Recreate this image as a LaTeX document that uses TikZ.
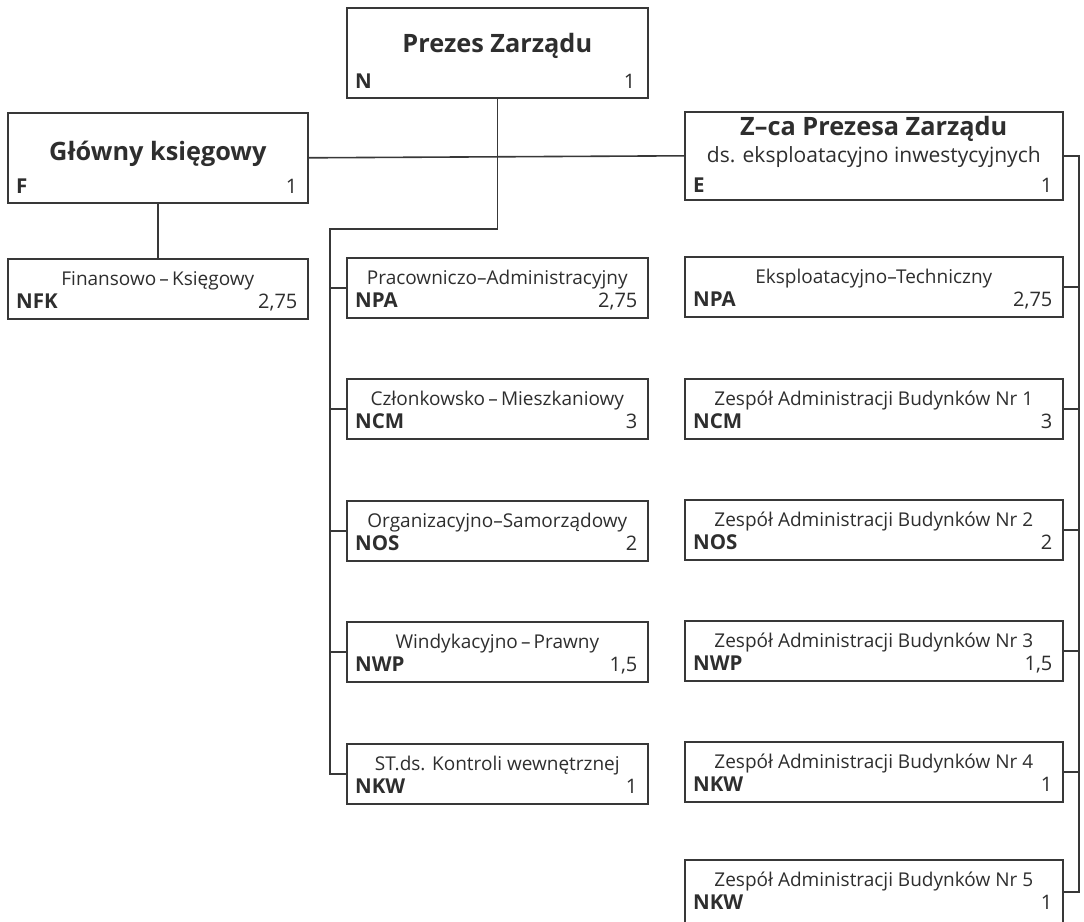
\documentclass[tikz,border=0pt]{standalone}
\usepackage{fontspec}
\setmainfont{Open Sans}
\usetikzlibrary{calc}
\definecolor{ink}{HTML}{383838}
\definecolor{txt}{HTML}{2E2E2E}
\tikzset{
  box/.style={draw=ink, line width=1.6pt, inner sep=0pt, anchor=north west},
  ttl/.style={anchor=base, inner sep=0pt, text=txt, font=\fontsize{19}{23}\selectfont},
  bigttl/.style={anchor=base, inner sep=0pt, text=txt, font=\fontsize{25.3}{30}\selectfont\bfseries},
  code/.style={anchor=base west, inner sep=0pt, text=txt, font=\fontsize{20.5}{24}\selectfont\bfseries},
  num/.style={anchor=base east, inner sep=0pt, text=txt, font=\fontsize{20}{24}\selectfont},
  wire/.style={draw=ink, line width=1.6pt},
}
% name, x, y, width, title, code, number
\newcommand\unitbox[7]{%
  \node[box, minimum width=#4pt, minimum height=60pt] (#1) at (#2,#3) {};
  \node[ttl] (#1t) at ($(#1.north)+(0,27)$) {#5};
  \node[code] (#1c) at ($(#1.north west)+(9,50)$) {#6};
  \node[num] (#1n) at ($(#1.north east)+(-11,50)$) {#7};
}
\begin{document}
\begin{tikzpicture}[x=1pt,y=-1pt]
\clip (0,0) rectangle (1084,921);
\fill[white] (0,0) rectangle (1084,921);

% Prezes
\node[box, minimum width=301pt, minimum height=90pt] (P) at (346,7) {};
\node[bigttl] (Pt) at ($(P.north)+(0,45)$) {Prezes Zarządu};
\node[code] (Pc) at ($(P.north west)+(9,81)$) {N};
\node[num] (Pn) at ($(P.north east)+(-13,81)$) {1};

% Glowny ksiegowy
\node[box, minimum width=300pt, minimum height=90pt] (G) at (7,112) {};
\node[bigttl] (Gt) at ($(G.north)+(0,48)$) {Główny księgowy};
\node[code] (Gc) at ($(G.north west)+(9,81)$) {F};
\node[num] (Gn) at ($(G.north east)+(-11,81)$) {1};

% Z-ca Prezesa
\node[box, minimum width=378pt, minimum height=88pt] (Z) at (684,111) {};
\node[bigttl] (Zt) at ($(Z.north)+(0,24)$) {Z–ca Prezesa Zarządu};
\node[ttl, font=\fontsize{21}{25}\selectfont] (Zs) at ($(Z.north)+(0,51)$) {ds. eksploatacyjno inwestycyjnych};
\node[code] (Zc) at ($(Z.north west)+(9,81)$) {E};
\node[num] (Zn) at ($(Z.north east)+(-11,81)$) {1};

% Finansowo
\unitbox{F}{7}{258}{300}{Finansowo\,–\,Księgowy}{NFK}{2,75}

% left column
\unitbox{L1}{346}{257}{301}{Pracowniczo–Administracyjny}{NPA}{2,75}
\unitbox{L2}{346}{378}{301}{Członkowsko\,–\,Mieszkaniowy}{NCM}{3}
\unitbox{L3}{346}{500}{301}{Organizacyjno–Samorządowy}{NOS}{2}
\unitbox{L4}{346}{621}{301}{Windykacyjno\,–\,Prawny}{NWP}{1,5}
\unitbox{L5}{346}{743}{301}{ST.ds. Kontroli wewnętrznej}{NKW}{1}

% right column
\unitbox{R0}{684}{256}{378}{Eksploatacyjno–Techniczny}{NPA}{2,75}
\unitbox{R1}{684}{378}{378}{Zespół Administracji Budynków Nr 1}{NCM}{3}
\unitbox{R2}{684}{499}{378}{Zespół Administracji Budynków Nr 2}{NOS}{2}
\unitbox{R3}{684}{620}{378}{Zespół Administracji Budynków Nr 3}{NWP}{1,5}
\unitbox{R4}{684}{741}{378}{Zespół Administracji Budynków Nr 4}{NKW}{1}
% last box runs past the lower edge of the page (cut off in the reference)
\node[box, minimum width=378pt, minimum height=64pt] (R5) at (684,859) {};
\node[ttl] (R5t) at ($(R5.north)+(0,27)$) {Zespół Administracji Budynków Nr 5};
\node[code] (R5c) at ($(R5.north west)+(9,50)$) {NKW};
\node[num] (R5n) at ($(R5.north east)+(-11,50)$) {1};

% connectors
\coordinate (lv) at (330,229);
\coordinate (rv) at (1079,156);
\draw[wire] (G.east) -- (Z.west);
\draw[wire] (G.south) -- (F.north);
\draw[wire] (P.south) -- (P.south |- lv) -- (lv) -- (lv |- L5.west) -- (L5.west);
\foreach \n in {L1,L2,L3,L4} \draw[wire] (lv |- \n.west) -- (\n.west);
\draw[wire] (Z.east) -- (rv |- Z.east) -- (rv |- R5.east) -- (R5.east);
\foreach \n in {R0,R1,R2,R3,R4} \draw[wire] (rv |- \n.east) -- (\n.east);
\end{tikzpicture}
\end{document}
